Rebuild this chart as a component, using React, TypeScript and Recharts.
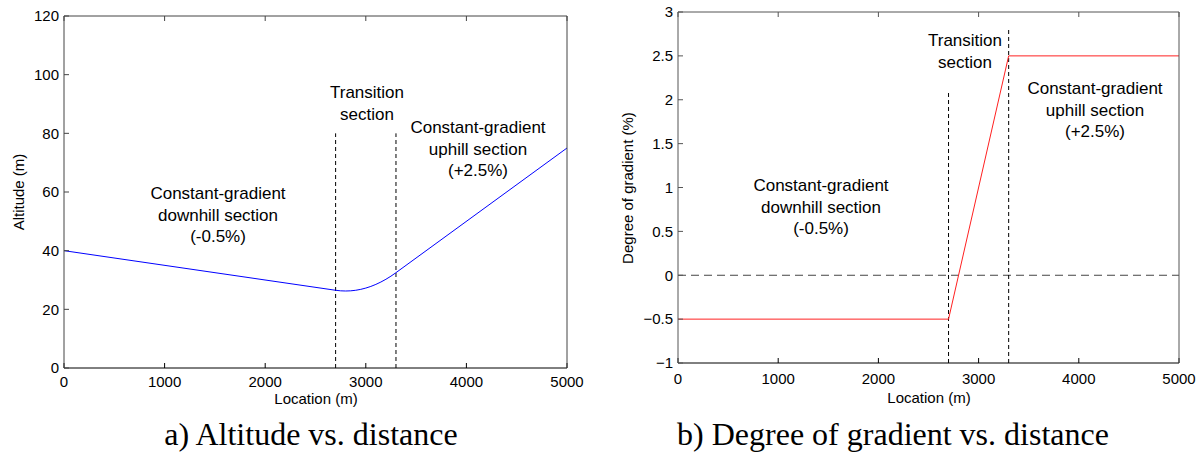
import React from 'react';
import { LineChart, Line, XAxis, YAxis, ReferenceLine } from 'recharts';

// Shared x axis (location in metres)
const locationTicks = [0, 1000, 2000, 3000, 4000, 5000];

// a) Altitude vs. distance
const altitudeTicks = [0, 20, 40, 60, 80, 100, 120];
const altLocations = [0, 2700, 2750, 2800, 2850, 2900, 2950, 3000, 3050, 3100, 3150, 3200, 3250, 3300, 5000];
const altitudes = [40, 26.5, 26.31, 26.25, 26.31, 26.5, 26.81, 27.25, 27.81, 28.5, 29.31, 30.25, 31.31, 32.5, 75];

// b) Degree of gradient vs. distance
const gradientTicks = [-1, -0.5, 0, 0.5, 1, 1.5, 2, 2.5, 3];
const gradLocations = [0, 2700, 3300, 5000];
const gradients = [-0.5, -0.5, 2.5, 2.5];

// transition section boundaries and how high the dashed markers reach
const sectionBounds = [2700, 3300];
const altMarkerTops = [80, 80];
const gradMarkerTops = [2.1, 2.8];

const altData = altLocations.map((x, i) => ({ x, y: altitudes[i] }));
const gradData = gradLocations.map((x, i) => ({ x, y: gradients[i] }));

const SANS = '"Liberation Sans", Arial, sans-serif';
const SERIF = '"Liberation Serif", "Times New Roman", serif';
const tickStyle = { fontSize: 15, fill: '#000', fontFamily: SANS };
const blank = () => '';
const fmtMinus = (v: number) => (v < 0 ? `\u2212${Math.abs(v)}` : `${v}`);

function Annotation({ x, y, lines }: { x: number; y: number; lines: string[] }) {
  return (
    <text x={x} y={y} textAnchor="middle" fontFamily={SANS} fontSize={17} fill="#000">
      {lines.map((l, i) => (
        <tspan key={i} x={x} dy={i === 0 ? 0 : 21.5}>
          {l}
        </tspan>
      ))}
    </text>
  );
}

export default function App() {
  return (
    <div style={{ position: 'absolute', left: 0, top: 0, width: 1203, height: 465, background: '#fff' }}>
      {/* Left chart */}
      <div style={{ position: 'absolute', left: 0, top: 0 }}>
        <LineChart width={600} height={400} data={altData} margin={{ top: 15, right: 32, bottom: 2, left: 0 }}>
          <XAxis dataKey="x" type="number" domain={[0, 5000]} ticks={locationTicks} interval={0}
            tickSize={-5} tickMargin={13} height={30} stroke="#000" tick={tickStyle} />
          <XAxis xAxisId="top" orientation="top" dataKey="x" type="number" domain={[0, 5000]}
            ticks={locationTicks} interval={0} tickSize={-5} height={1} stroke="#444" tickFormatter={blank} />
          <YAxis type="number" domain={[0, 120]} ticks={altitudeTicks} interval={0}
            tickSize={-5} tickMargin={10} width={64} stroke="#444" tick={tickStyle} />
          <YAxis yAxisId="right" orientation="right" type="number" domain={[0, 120]}
            ticks={altitudeTicks} interval={0} tickSize={-5} width={1} stroke="#444" tickFormatter={blank} />
          {sectionBounds.map((b, i) => (
            <ReferenceLine key={b} segment={[{ x: b, y: altitudeTicks[0] }, { x: b, y: altMarkerTops[i] }]}
              stroke="#000" strokeDasharray="4 3" />
          ))}
          <Line dataKey="y" type="linear" stroke="#0000ff" strokeWidth={1} dot={false} isAnimationActive={false} />
        </LineChart>
      </div>

      {/* Right chart */}
      <div style={{ position: 'absolute', left: 614, top: 0 }}>
        <LineChart width={589} height={400} data={gradData} margin={{ top: 11, right: 23, bottom: 7, left: 0 }}>
          <XAxis dataKey="x" type="number" domain={[0, 5000]} ticks={locationTicks} interval={0}
            tickSize={-5} tickMargin={15} height={30} stroke="#000" tick={tickStyle} />
          <XAxis xAxisId="top" orientation="top" dataKey="x" type="number" domain={[0, 5000]}
            ticks={locationTicks} interval={0} tickSize={-5} height={1} stroke="#555" tickFormatter={blank} />
          <YAxis type="number" domain={[-1, 3]} ticks={gradientTicks} interval={0}
            tickSize={-5} tickMargin={10} width={64} stroke="#555" tick={tickStyle} tickFormatter={fmtMinus} />
          <YAxis yAxisId="right" orientation="right" type="number" domain={[-1, 3]}
            ticks={gradientTicks} interval={0} tickSize={-5} width={1} stroke="#555" tickFormatter={blank} />
          <ReferenceLine y={0} stroke="#444" strokeDasharray="8 5" />
          {sectionBounds.map((b, i) => (
            <ReferenceLine key={b} segment={[{ x: b, y: gradientTicks[0] }, { x: b, y: gradMarkerTops[i] }]}
              stroke="#000" strokeDasharray="4 3" />
          ))}
          <Line dataKey="y" type="linear" stroke="#ff2020" strokeWidth={1} dot={false} isAnimationActive={false} />
        </LineChart>
      </div>

      {/* Text overlay: axis titles, annotations, captions */}
      <svg width={1203} height={465} style={{ position: 'absolute', left: 0, top: 0, pointerEvents: 'none' }}>
        <text x={316} y={404} textAnchor="middle" fontFamily={SANS} fontSize={15}>Location (m)</text>
        <text x={929} y={403} textAnchor="middle" fontFamily={SANS} fontSize={15}>Location (m)</text>
        <text transform="translate(24,192) rotate(-90)" textAnchor="middle" fontFamily={SANS} fontSize={15}>Altitude (m)</text>
        <text transform="translate(633,188) rotate(-90)" textAnchor="middle" fontFamily={SANS} fontSize={15}>Degree of gradient (%)</text>

        <Annotation x={218} y={199} lines={['Constant-gradient', 'downhill section', '(-0.5%)']} />
        <Annotation x={367} y={98} lines={['Transition', 'section']} />
        <Annotation x={478} y={133} lines={['Constant-gradient', 'uphill section', '(+2.5%)']} />

        <Annotation x={821} y={191} lines={['Constant-gradient', 'downhill section', '(-0.5%)']} />
        <Annotation x={965} y={46} lines={['Transition', 'section']} />
        <Annotation x={1095} y={94} lines={['Constant-gradient', 'uphill section', '(+2.5%)']} />

        <text x={311} y={445} textAnchor="middle" fontFamily={SERIF} fontSize={32}>a) Altitude vs. distance</text>
        <text x={893} y={445} textAnchor="middle" fontFamily={SERIF} fontSize={32}>b) Degree of gradient vs. distance</text>
      </svg>
    </div>
  );
}
